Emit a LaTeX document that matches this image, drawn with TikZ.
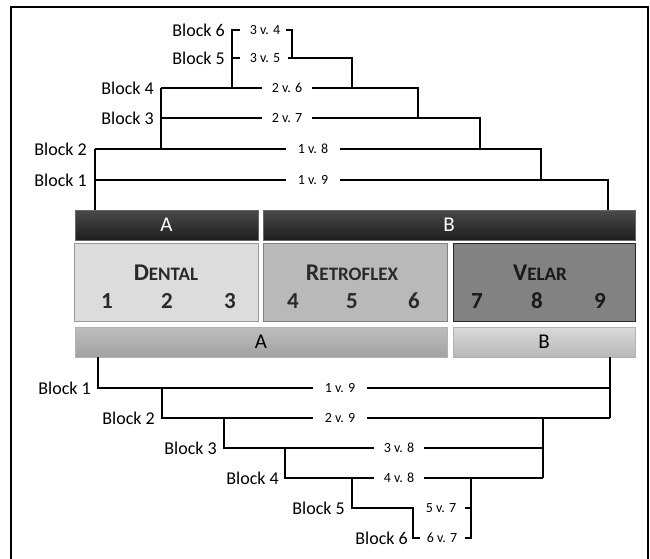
\documentclass[tikz,border=0pt]{standalone}
\usepackage{fontspec}
\setmainfont{Carlito}
\usetikzlibrary{positioning}
\definecolor{barDarkTop}{HTML}{4A4A4A}
\definecolor{barDarkBot}{HTML}{1E1E1E}
\definecolor{dentalFill}{HTML}{DCDCDC}
\definecolor{retroFill}{HTML}{B9B9B9}
\definecolor{velarFill}{HTML}{828282}
\definecolor{lowATop}{HTML}{BDBDBD}
\definecolor{lowABot}{HTML}{A2A2A2}
\definecolor{lowBTop}{HTML}{DADADA}
\definecolor{lowBBot}{HTML}{B8B8B8}
\definecolor{boxText}{HTML}{2A2A2A}
\newcommand{\fakesc}[2]{{\fontsize{24}{26}\selectfont #1}{\fontsize{19}{21}\selectfont #2}}

\begin{document}
\begin{tikzpicture}[x=1pt, y=-1pt,
    tree/.style={line width=1.8pt},
    blk/.style={anchor=east, inner sep=1pt, font=\fontsize{18}{20}\selectfont},
    vs/.style={fill=white, inner xsep=12pt, inner ysep=1pt,
               font=\fontsize{14}{16}\selectfont},
    vsb/.style={inner sep=1pt, font=\fontsize{14}{16}\selectfont},
    darkbar/.style={draw=black!60, top color=barDarkTop, bottom color=barDarkBot,
                    minimum height=30pt, text=white, inner sep=0pt,
                    font=\fontsize{21}{23}\selectfont},
    catbox/.style={draw=#1!70!black, fill=#1, line width=1pt,
                   minimum height=78pt, inner sep=0pt},
    lowbar/.style={draw=black!30, minimum height=30pt, inner sep=0pt,
                   font=\fontsize{21}{23}\selectfont},
    cattitle/.style={text=boxText, font=\bfseries},
    catnum/.style={text=boxText, font=\fontsize{23}{25}\selectfont\bfseries},
]
    \path[use as bounding box, clip] (0,0) rectangle (650,558);
    \draw[line width=1.4pt] (11,575) -- (11,7) -- (648,7) -- (648,575);

    % Groups and places
    \node[darkbar, minimum width=183pt] (topA) at (166.5,225) {A};
    \node[darkbar, minimum width=372pt] (topB) at (449,225) {B};

    \node[catbox=dentalFill, minimum width=184pt] (dental) at (166,282) {};
    \node[catbox=retroFill, minimum width=184pt] (retro) at (355,282) {};
    \node[catbox=velarFill, draw=black!85, minimum width=182pt] (velar) at (544,282) {};

    \node[cattitle] (dentalT) at (166,273) {\fakesc{D}{ENTAL}};
    \node[cattitle] (retroT) at (352,273) {\fakesc{R}{ETROFLEX}};
    \node[cattitle, text=black!90] (velarT) at (540,273) {\fakesc{V}{ELAR}};
    \foreach \n/\x in {1/107,2/167,3/230,4/293,5/352,6/414}
        \node[catnum] (num\n) at (\x,301) {\n};
    \foreach \n/\x in {7/477,8/537,9/600}
        \node[catnum, text=black!90] (num\n) at (\x,301) {\n};

    \node[lowbar, top color=lowATop, bottom color=lowABot, minimum width=372pt] (lowA) at (261,342) {A};
    \node[lowbar, top color=lowBTop, bottom color=lowBBot, minimum width=182pt] (lowB) at (544,342) {B};

    % Upper blocks
    \draw[tree] (240,30) -- (232,30) -- (232,88);
    \draw[tree] (232,58) -- (240,58);
    \draw[tree] (286,30) -- (292,30) -- (292,58);
    \draw[tree] (288,58) -- (352,58) -- (352,88);
    \draw[tree] (161,88) -- (418,88) -- (418,118);
    \draw[tree] (161,88) -- (161,149);
    \draw[tree] (161,118) -- (480,118) -- (480,149);
    \draw[tree] (95,149) -- (541,149) -- (541,180);
    \draw[tree] (95,149) -- (95,210);
    \draw[tree] (95,180) -- (608,180) -- (608,210);

    \node[blk] (up6) at (226,30) {Block 6};
    \node[blk] (up5) at (226,58) {Block 5};
    \node[blk] (up4) at (155,88) {Block 4};
    \node[blk] (up3) at (155,118) {Block 3};
    \node[blk] (up2) at (88,149) {Block 2};
    \node[blk] (up1) at (88,180) {Block 1};

    \node[vsb] (up34) at (265,30) {3 v. 4};
    \node[vsb] (up35) at (265,58) {3 v. 5};
    \node[vs, inner xsep=10pt] (up26) at (287,88) {2 v. 6};
    \node[vs, inner xsep=10pt] (up27) at (287,118) {2 v. 7};
    \node[vs] (up18) at (313,149) {1 v. 8};
    \node[vs] (up19) at (313,180) {1 v. 9};

    % Lower blocks
    \draw[tree] (98,357) -- (98,388) -- (610,388);
    \draw[tree] (610,357) -- (610,418);
    \draw[tree] (162,388) -- (162,418) -- (610,418);
    \draw[tree] (543,418) -- (543,478);
    \draw[tree] (224,418) -- (224,448) -- (543,448);
    \draw[tree] (285,448) -- (285,478) -- (543,478);
    \draw[tree] (471,478) -- (471,538) -- (465,538);
    \draw[tree] (471,508) -- (465,508);
    \draw[tree] (352,478) -- (352,508) -- (413,508) -- (413,538) -- (420,538);

    \node[blk] (lo1) at (92,388) {Block 1};
    \node[blk] (lo2) at (156,418) {Block 2};
    \node[blk] (lo3) at (218,448) {Block 3};
    \node[blk] (lo4) at (280,478) {Block 4};
    \node[blk] (lo5) at (346,508) {Block 5};
    \node[blk] (lo6) at (409,538) {Block 6};

    \node[vs] (lo19) at (340,388) {1 v. 9};
    \node[vs] (lo29) at (340,418) {2 v. 9};
    \node[vs, inner xsep=10pt] (lo38) at (399,448) {3 v. 8};
    \node[vs, inner xsep=10pt] (lo48) at (399,478) {4 v. 8};
    \node[vsb] (lo57) at (441,508) {5 v. 7};
    \node[vsb] (lo67) at (442,538) {6 v. 7};
\end{tikzpicture}
\end{document}
